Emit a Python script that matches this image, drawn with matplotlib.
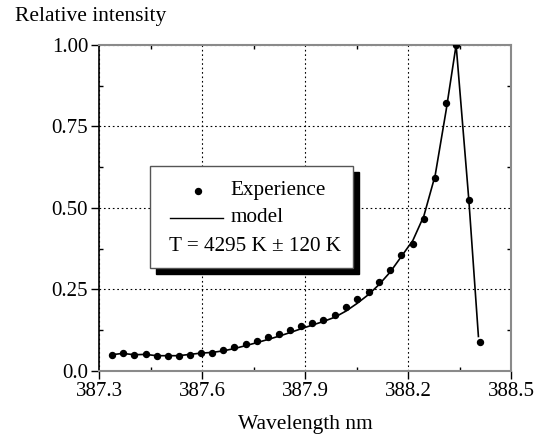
import matplotlib
matplotlib.use('Agg')
import matplotlib.pyplot as plt
from matplotlib.patches import Rectangle

# Valeurs
longueur_onde = [387.336, 387.368, 387.402, 387.435, 387.467, 387.499, 387.531,
                 387.564, 387.597, 387.629, 387.662, 387.694, 387.727, 387.759,
                 387.792, 387.824, 387.856, 387.889, 387.921, 387.953, 387.986,
                 388.019, 388.052, 388.085, 388.116, 388.148, 388.180, 388.214,
                 388.246, 388.279, 388.311, 388.340, 388.377, 388.410]
experience = [0.049, 0.055, 0.049, 0.051, 0.045, 0.045, 0.045,
              0.049, 0.055, 0.055, 0.064, 0.072, 0.082, 0.092,
              0.102, 0.113, 0.125, 0.137, 0.147, 0.156, 0.171,
              0.195, 0.221, 0.242, 0.272, 0.308, 0.355, 0.389,
              0.467, 0.591, 0.823, 1.000, 0.525, 0.087]

longueur_modele = [387.336, 387.368, 387.402, 387.435, 387.467, 387.499, 387.531,
                   387.564, 387.597, 387.629, 387.662, 387.694, 387.727, 387.759,
                   387.792, 387.824, 387.856, 387.889, 387.921, 387.953, 387.986,
                   388.019, 388.052, 388.085, 388.116, 388.148, 388.180, 388.214,
                   388.246, 388.279, 388.311, 388.340, 388.377, 388.405]
modele = [0.049, 0.053, 0.049, 0.050, 0.046, 0.046, 0.046,
          0.050, 0.054, 0.056, 0.061, 0.068, 0.077, 0.086,
          0.096, 0.106, 0.117, 0.129, 0.140, 0.151, 0.164,
          0.183, 0.207, 0.234, 0.265, 0.303, 0.350, 0.400,
          0.475, 0.600, 0.800, 1.000, 0.525, 0.105]

xticks = [387.3, 387.6, 387.9, 388.2, 388.5]
yticks = [0.0, 0.25, 0.5, 0.75, 1.0]
ytick_labels = ['0.0', '0.25', '0.50', '0.75', '1.00']

plt.rcParams['font.family'] = ['Liberation Serif', 'DejaVu Serif']
gris = '#8a8a8a'

fig = plt.figure(figsize=(5.48, 4.38), dpi=100)
ax = fig.add_axes([0.1812, 0.1537, 0.7513, 0.7436])

ax.plot(longueur_modele, modele, color='black', lw=1.2, zorder=3)
ax.plot(longueur_onde, experience, 'o', color='black', ms=4.3, zorder=4)

ax.set_xlim(387.3, 388.5)
ax.set_ylim(0.0, 1.0)
ax.set_xticks(xticks)
ax.set_xticklabels([f'{t:.1f}' for t in xticks])
ax.set_yticks(yticks)
ax.set_yticklabels(ytick_labels)
ax.set_xticks([387.45, 387.75, 388.05, 388.35], minor=True)
ax.set_yticks([0.125, 0.375, 0.625, 0.875], minor=True)

ax.tick_params(which='major', direction='out', length=6, width=1,
               labelsize=15, color='black', pad=2)
ax.tick_params(which='minor', direction='in', length=3, width=1,
               top=True, right=True, color='black')

# grille pointillee
ax.grid(True, which='major', linestyle=(0, (1.5, 2.5)), color='black', lw=0.8)

for s in ['top', 'right', 'bottom']:
    ax.spines[s].set_color(gris)
    ax.spines[s].set_linewidth(1.5)
ax.spines['left'].set_color('black')
ax.spines['left'].set_linewidth(1.2)

# cadre de legende avec ombre
ombre = Rectangle((0.123 + 0.0146, 0.315 - 0.0184), 0.493, 0.314,
                  transform=ax.transAxes, facecolor='black', edgecolor='black',
                  zorder=5)
boite = Rectangle((0.123, 0.315), 0.493, 0.314, transform=ax.transAxes,
                  facecolor='white', edgecolor='#555555', lw=1, zorder=6)
ax.add_patch(ombre)
ax.add_patch(boite)
ax.plot([0.240], [0.553], 'o', color='black', ms=4.3, transform=ax.transAxes,
        zorder=7)
ax.text(0.318, 0.553, 'Experience', transform=ax.transAxes, fontsize=15.2,
        va='center', ha='left', zorder=7)
ax.plot([0.171, 0.301], [0.469, 0.469], color='black', lw=1,
        transform=ax.transAxes, zorder=7)
ax.text(0.318, 0.469, 'model', transform=ax.transAxes, fontsize=15.2,
        va='center', ha='left', zorder=7)
ax.text(0.169, 0.381, 'T = 4295 K \u00b1 120 K', transform=ax.transAxes,
        fontsize=15.2, va='center', ha='left', zorder=7)

fig.text(15 / 548, 1 - 17 / 438, 'Relative intensity', fontsize=15.5,
         ha='left', va='center')
fig.text(305 / 548, 1 - 425 / 438, 'Wavelength nm', fontsize=15.5,
         ha='center', va='center')

fig.savefig('out.png', dpi=100)
